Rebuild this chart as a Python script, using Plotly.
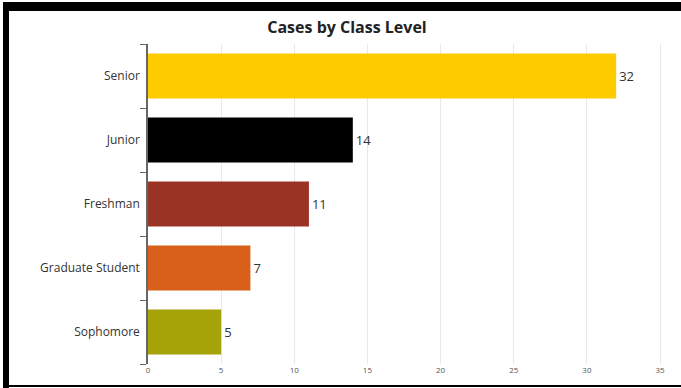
import plotly.graph_objects as go

# Case counts per class level (top to bottom as displayed)
class_levels = ["Senior", "Junior", "Freshman", "Graduate Student", "Sophomore"]
case_counts = [32, 14, 11, 7, 5]
bar_colors = ["#FFCC00", "#000000", "#9A3324", "#D9601A", "#A5A308"]
x_ticks = [0, 5, 10, 15, 20, 25, 30, 35]

W, H = 681, 388
L, R, T, B = 148, 14, 44, 24
PW, PH = W - L - R, H - T - B


def px_x(x):
    return (x - L) / PW


def px_y(y):
    return (H - B - y) / PH


fig = go.Figure(
    go.Bar(
        x=case_counts,
        y=class_levels,
        orientation="h",
        marker=dict(color=bar_colors, line=dict(width=0)),
        width=0.7,
        text=[str(v) for v in case_counts],
        textposition="outside",
        textfont=dict(size=13, color="#333333", family="Open Sans"),
        cliponaxis=False,
    )
)

fig.update_layout(
    width=W,
    height=H,
    margin=dict(l=L, r=R, t=T, b=B),
    paper_bgcolor="white",
    plot_bgcolor="white",
    showlegend=False,
    font=dict(family="Open Sans", color="#333333"),
    title=dict(
        text="<b>Cases by Class Level</b>",
        x=px_x(347),
        xref="paper",
        xanchor="center",
        y=1 - 27 / H,
        yanchor="middle",
        font=dict(size=16, color="#222222", family="Open Sans"),
    ),
    bargap=0.3,
)

fig.update_xaxes(
    range=[0, PW / 14.63],
    tickvals=x_ticks,
    showgrid=True,
    gridcolor="#E8E8E8",
    gridwidth=1,
    zeroline=False,
    showline=False,
    ticks="",
    tickfont=dict(size=8, color="#555555"),
)

fig.update_yaxes(
    categoryorder="array",
    categoryarray=class_levels[::-1],
    tickson="boundaries",
    ticks="outside",
    ticklen=6,
    tickcolor="#666666",
    showline=True,
    linecolor="#666666",
    linewidth=1.5,
    showgrid=False,
    tickfont=dict(size=12, color="#333333"),
    ticklabelstandoff=4,
)

# Frame: thick black band on top and left, thin line along the bottom
frame = dict(type="rect", xref="paper", yref="paper", fillcolor="black", line=dict(width=0), layer="above")
fig.add_shape(**frame, x0=px_x(3), x1=px_x(W), y0=px_y(11), y1=px_y(2))
fig.add_shape(**frame, x0=px_x(3), x1=px_x(9), y0=px_y(H), y1=px_y(2))
fig.add_shape(**frame, x0=px_x(3), x1=px_x(W), y0=px_y(387), y1=px_y(385))

fig.write_html("out.html")
